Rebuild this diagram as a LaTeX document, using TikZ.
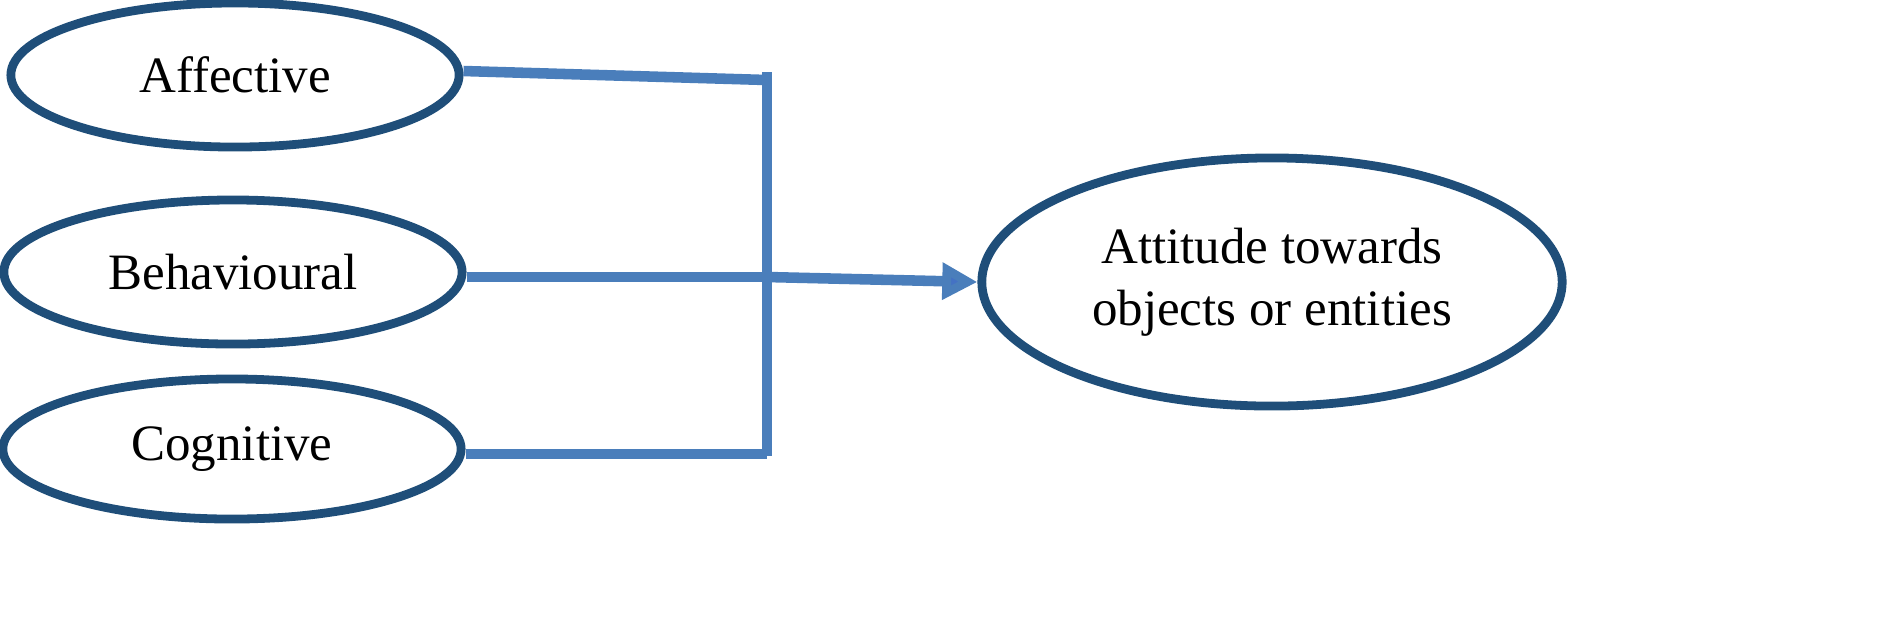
\documentclass[tikz,border=0pt]{standalone}
\usepackage{fontspec}
\setmainfont{Liberation Serif}
\usetikzlibrary{arrows.meta,shapes.geometric}
\definecolor{ringblue}{RGB}{31,78,121}
\definecolor{linkblue}{RGB}{74,126,187}
\definecolor{tipblue}{RGB}{68,114,196}
\tikzset{
  factor/.style={ellipse,draw=ringblue,line width=2.5pt,inner sep=0pt,font=\fontsize{14.5}{17.5}\selectfont},
  link/.style={linkblue,line width=3pt}
}
\begin{document}
\begin{tikzpicture}[x=0.01cm,y=-0.01cm]
\useasboundingbox (0,0) rectangle (1890,629);
% Components
\node[factor,minimum width=4.48cm,minimum height=1.44cm] (aff) at (235,75) {Affective};
\node[factor,minimum width=4.58cm,minimum height=1.44cm] (beh) at (233,272) {Behavioural};
\node[factor,minimum width=4.58cm,minimum height=1.4cm] (cog) at (232,449) {Cognitive};
% Outcome
\node[factor,minimum width=5.8cm,minimum height=2.48cm,align=center] (att) at (1272,282) {Attitude towards\\objects or entities};
% Junction
\coordinate (top) at (767,72);
\coordinate (bot) at (767,456);
\coordinate (j1) at (767,80);
\coordinate (j2) at (767,277);
\coordinate (j3) at (767,454);
\draw[link] (top) -- (bot);
\draw[link] (aff.east) ++(0,-4) -- (j1);
\draw[link] (beh.east) ++(0,5) -- (j2);
\draw[link] (cog.east) ++(0,5) -- (j3);
\draw[link,-{Triangle[length=10pt,width=10pt,fill=tipblue]}] (j2) -- (att.west);
\end{tikzpicture}
\end{document}
